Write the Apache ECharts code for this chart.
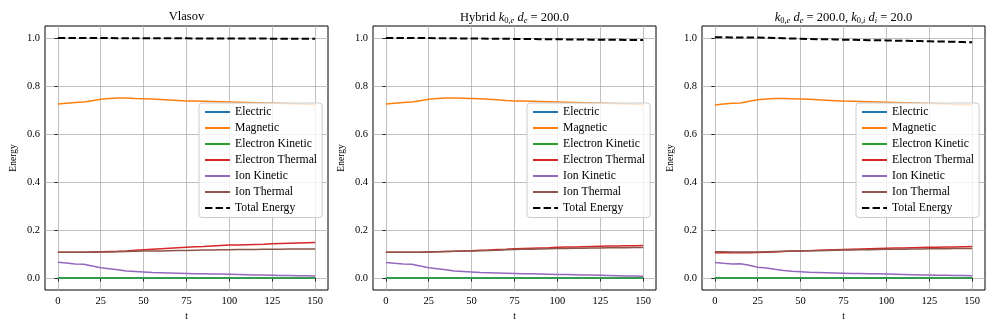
<!DOCTYPE html>
<html>
<head>
<meta charset="utf-8">
<script src="https://cdn.jsdelivr.net/npm/echarts@6/dist/echarts.min.js"></script>
<style>
  html, body { margin: 0; padding: 0; background: #fff; }
  #main { width: 997px; height: 332px; }
</style>
</head>
<body>
<div id="main"></div>
<script>
  // time axis (t)
  const tValues = [0, 5, 10, 15, 20, 25, 30, 35, 40, 45, 50, 55, 60, 65, 70, 75, 80, 85, 90, 95, 100, 105, 110, 115, 120, 125, 130, 135, 140, 145, 150]
  const xTicks = [0, 25, 50, 75, 100, 125, 150]
  const yTicks = [0.0, 0.2, 0.4, 0.6, 0.8, 1.0]

  const seriesNames = ['Electric', 'Magnetic', 'Electron Kinetic', 'Electron Thermal', 'Ion Kinetic', 'Ion Thermal', 'Total Energy']

  // electric and electron kinetic energy stay at ~0 in every run
  const electricV = [0, 0, 0, 0, 0, 0, 0, 0, 0, 0, 0, 0, 0, 0, 0, 0, 0, 0, 0, 0, 0, 0, 0, 0, 0, 0, 0, 0, 0, 0, 0]
  const electronKineticV = [0, 0, 0, 0, 0, 0, 0, 0, 0, 0, 0, 0, 0, 0, 0, 0, 0, 0, 0, 0, 0, 0, 0, 0, 0, 0, 0, 0, 0, 0, 0]

  // Vlasov
  const vlMagnetic = [0.725, 0.728, 0.731, 0.733, 0.739, 0.745, 0.748, 0.750, 0.750, 0.748, 0.747, 0.746, 0.744, 0.742, 0.740, 0.738, 0.737, 0.736, 0.735, 0.734, 0.733, 0.732, 0.731, 0.730, 0.729, 0.728, 0.727, 0.726, 0.725, 0.724, 0.723]
  const vlElecThermal = [0.107, 0.107, 0.107, 0.107, 0.108, 0.109, 0.110, 0.111, 0.113, 0.116, 0.118, 0.120, 0.122, 0.124, 0.126, 0.128, 0.130, 0.131, 0.133, 0.135, 0.137, 0.138, 0.139, 0.140, 0.141, 0.143, 0.144, 0.145, 0.146, 0.147, 0.148]
  const vlIonKinetic = [0.066, 0.062, 0.058, 0.057, 0.050, 0.043, 0.039, 0.034, 0.029, 0.027, 0.025, 0.023, 0.022, 0.021, 0.020, 0.019, 0.018, 0.018, 0.017, 0.017, 0.016, 0.015, 0.014, 0.013, 0.012, 0.011, 0.010, 0.010, 0.009, 0.009, 0.008]
  const vlIonThermal = [0.107, 0.107, 0.107, 0.107, 0.107, 0.108, 0.108, 0.109, 0.110, 0.111, 0.112, 0.113, 0.113, 0.114, 0.115, 0.115, 0.116, 0.117, 0.117, 0.118, 0.118, 0.119, 0.119, 0.119, 0.120, 0.120, 0.120, 0.121, 0.121, 0.121, 0.121]
  const vlTotal = [1.000, 1.000, 1.000, 1.000, 1.000, 1.000, 1.000, 0.999, 0.999, 0.999, 0.999, 0.999, 0.999, 0.999, 0.999, 0.999, 0.998, 0.998, 0.998, 0.998, 0.998, 0.998, 0.998, 0.998, 0.998, 0.997, 0.997, 0.997, 0.997, 0.997, 0.997]

  // Hybrid k0e de = 200
  const hyMagnetic = [0.725, 0.728, 0.731, 0.733, 0.739, 0.745, 0.748, 0.750, 0.750, 0.749, 0.748, 0.747, 0.745, 0.743, 0.740, 0.738, 0.737, 0.736, 0.735, 0.734, 0.733, 0.732, 0.731, 0.730, 0.729, 0.728, 0.727, 0.726, 0.725, 0.724, 0.723]
  const hyElecThermal = [0.107, 0.107, 0.107, 0.107, 0.107, 0.108, 0.109, 0.110, 0.111, 0.113, 0.114, 0.116, 0.117, 0.119, 0.120, 0.122, 0.123, 0.124, 0.125, 0.126, 0.128, 0.129, 0.129, 0.130, 0.131, 0.132, 0.133, 0.133, 0.134, 0.134, 0.135]
  const hyIonKinetic = [0.065, 0.061, 0.058, 0.057, 0.050, 0.043, 0.039, 0.034, 0.029, 0.027, 0.025, 0.023, 0.022, 0.021, 0.020, 0.019, 0.018, 0.018, 0.017, 0.016, 0.015, 0.015, 0.014, 0.013, 0.012, 0.011, 0.010, 0.009, 0.008, 0.008, 0.007]
  const hyIonThermal = [0.107, 0.107, 0.107, 0.107, 0.107, 0.108, 0.109, 0.110, 0.111, 0.112, 0.113, 0.114, 0.115, 0.116, 0.118, 0.119, 0.120, 0.120, 0.121, 0.122, 0.123, 0.123, 0.124, 0.124, 0.125, 0.125, 0.126, 0.126, 0.126, 0.127, 0.127]
  const hyTotal = [1.000, 1.000, 1.000, 1.000, 1.000, 1.000, 0.999, 0.999, 0.999, 0.998, 0.998, 0.998, 0.997, 0.997, 0.997, 0.996, 0.996, 0.996, 0.995, 0.995, 0.995, 0.994, 0.994, 0.994, 0.993, 0.993, 0.993, 0.993, 0.992, 0.992, 0.992]

  // k0e de = 200, k0i di = 20
  const kkMagnetic = [0.721, 0.725, 0.728, 0.729, 0.736, 0.743, 0.746, 0.748, 0.748, 0.747, 0.746, 0.745, 0.743, 0.741, 0.739, 0.737, 0.736, 0.735, 0.734, 0.733, 0.732, 0.731, 0.730, 0.729, 0.728, 0.727, 0.726, 0.725, 0.723, 0.722, 0.721]
  const kkElecThermal = [0.105, 0.105, 0.105, 0.105, 0.105, 0.106, 0.107, 0.108, 0.110, 0.112, 0.113, 0.114, 0.116, 0.117, 0.118, 0.119, 0.120, 0.121, 0.122, 0.123, 0.124, 0.125, 0.125, 0.126, 0.127, 0.128, 0.128, 0.129, 0.129, 0.130, 0.131]
  const kkIonKinetic = [0.065, 0.061, 0.058, 0.059, 0.053, 0.045, 0.042, 0.036, 0.031, 0.028, 0.026, 0.024, 0.023, 0.022, 0.021, 0.020, 0.019, 0.019, 0.018, 0.018, 0.017, 0.016, 0.015, 0.014, 0.013, 0.012, 0.011, 0.011, 0.010, 0.010, 0.009]
  const kkIonThermal = [0.109, 0.109, 0.108, 0.108, 0.108, 0.108, 0.109, 0.110, 0.111, 0.112, 0.113, 0.114, 0.114, 0.115, 0.116, 0.117, 0.117, 0.118, 0.118, 0.119, 0.120, 0.120, 0.120, 0.121, 0.121, 0.122, 0.122, 0.122, 0.123, 0.123, 0.123]
  const kkTotal = [1.003, 1.003, 1.002, 1.002, 1.002, 1.002, 1.001, 1.000, 0.999, 0.998, 0.997, 0.996, 0.995, 0.995, 0.994, 0.993, 0.993, 0.992, 0.991, 0.991, 0.990, 0.989, 0.989, 0.988, 0.987, 0.986, 0.985, 0.985, 0.984, 0.983, 0.982]

  const FONT = '"Liberation Serif", "DejaVu Serif", serif'
  const colors = ['#1f77b4', '#ff7f0e', '#2ca02c', '#d62728', '#9467bd', '#8c564b', '#000000']

  const panels = [
    {
      title: '{n|Vlasov}',
      values: [electricV, vlMagnetic, electronKineticV, vlElecThermal, vlIonKinetic, vlIonThermal, vlTotal]
    },
    {
      title: '{n|Hybrid }{i|k}{s|0,}{si|e}{i| d}{si|e}{n| = 200.0}',
      values: [electricV, hyMagnetic, electronKineticV, hyElecThermal, hyIonKinetic, hyIonThermal, hyTotal]
    },
    {
      title: '{i|k}{s|0,}{si|e}{i| d}{si|e}{n| = 200.0, }{i|k}{s|0,}{si|i}{i| d}{si|i}{n| = 20.0}',
      values: [electricV, kkMagnetic, electronKineticV, kkElecThermal, kkIonKinetic, kkIonThermal, kkTotal]
    }
  ]

  const gridLefts = [45, 373, 702]
  const gridW = 283
  const legendLefts = [199, 527, 856]

  const titleRich = {
    n: { fontFamily: FONT, fontSize: 12.5, fontWeight: 'normal', color: '#000' },
    i: { fontFamily: FONT, fontSize: 12.5, fontWeight: 'normal', fontStyle: 'italic', color: '#000' },
    s: { fontFamily: FONT, fontSize: 8.5, fontWeight: 'normal', color: '#000', padding: [6, 0, 0, 0] },
    si: { fontFamily: FONT, fontSize: 8.5, fontWeight: 'normal', fontStyle: 'italic', color: '#000', padding: [6, 0, 0, 0] }
  }

  const option = {
    animation: false,
    backgroundColor: '#fff',
    title: [],
    legend: [],
    grid: [],
    xAxis: [],
    yAxis: [],
    series: []
  }

  panels.forEach(function (p, k) {
    option.title.push({
      text: p.title,
      left: gridLefts[k] + gridW / 2,
      textAlign: 'center',
      top: 10,
      padding: 0,
      textStyle: { fontWeight: 'normal', fontFamily: FONT, fontSize: 12.5, rich: titleRich }
    })
    option.grid.push({
      left: gridLefts[k], top: 26, width: gridW, height: 264,
      show: true, borderColor: '#000', borderWidth: 1, backgroundColor: 'transparent'
    })
    option.xAxis.push({
      type: 'value', gridIndex: k,
      min: -7.5, max: 157.5, minInterval: 25, maxInterval: 25,
      name: 't', nameLocation: 'middle', nameGap: 19,
      nameTextStyle: { fontFamily: FONT, fontSize: 9.5, color: '#000' },
      axisLine: { show: false },
      axisTick: { length: 3.5, lineStyle: { color: '#000', width: 0.8 } },
      axisLabel: {
        margin: 6, fontFamily: FONT, fontSize: 10.5, color: '#000',
        showMinLabel: false, showMaxLabel: false,
        formatter: function (v) { return xTicks.indexOf(v) >= 0 ? String(v) : '' }
      },
      splitLine: { show: true, showMinLine: false, showMaxLine: false, lineStyle: { color: '#b0b0b0', width: 0.8 } }
    })
    option.yAxis.push({
      type: 'value', gridIndex: k,
      min: -0.05, max: 1.05, minInterval: 0.2, maxInterval: 0.2,
      name: 'Energy', nameLocation: 'middle', nameGap: 27,
      nameTextStyle: { fontFamily: FONT, fontSize: 9.5, color: '#000' },
      axisLine: { show: false },
      axisTick: { length: 3.5, lineStyle: { color: '#000', width: 0.8 } },
      axisLabel: {
        margin: 5, fontFamily: FONT, fontSize: 10.5, color: '#000',
        showMinLabel: false, showMaxLabel: false,
        formatter: function (v) {
          const hit = yTicks.find(function (y) { return Math.abs(y - v) < 1e-6 })
          return hit === undefined ? '' : hit.toFixed(1)
        }
      },
      splitLine: { show: true, showMinLine: false, showMaxLine: false, lineStyle: { color: '#b0b0b0', width: 0.8 } }
    })
    option.legend.push({
      orient: 'vertical',
      left: legendLefts[k], top: 103,
      data: seriesNames,
      itemWidth: 25, itemHeight: 10, itemGap: 4,
      padding: [3, 5, 3.5, 5],
      backgroundColor: 'rgba(255,255,255,0.8)',
      borderColor: '#cccccc', borderWidth: 1, borderRadius: 3,
      itemStyle: { color: 'rgba(0,0,0,0)', borderColor: 'rgba(0,0,0,0)', borderWidth: 0, opacity: 0 },
      lineStyle: { width: 2 },
      textStyle: { fontFamily: FONT, fontSize: 11.7, color: '#000' },
      selectedMode: false
    })
    seriesNames.forEach(function (name, j) {
      const isTotal = name === 'Total Energy'
      option.series.push({
        name: name, type: 'line',
        xAxisIndex: k, yAxisIndex: k,
        data: tValues.map(function (t, n) { return [t, p.values[j][n]] }),
        symbol: 'none',
        color: colors[j],
        lineStyle: { color: colors[j], width: isTotal ? 2 : 1.5, type: isTotal ? [7.4, 3.2] : 'solid' },
        z: 2 + j * 0.01
      })
    })
  })

  const chart = echarts.init(document.getElementById('main'))
  chart.setOption(option)
</script>
</body>
</html>
